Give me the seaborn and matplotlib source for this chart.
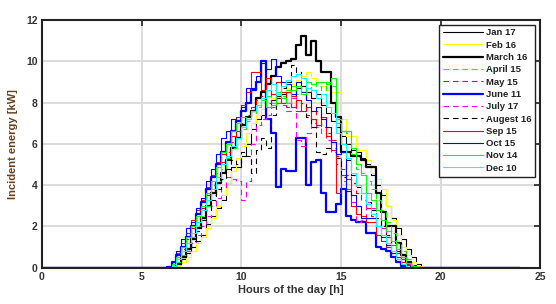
import numpy as np
import matplotlib
matplotlib.use("Agg")
import matplotlib.pyplot as plt
import seaborn as sns

# 15-minute samples, daytime part only (06:00 .. 19:00), zero outside
day_start = 6.0
step = 0.25

jan17 = [0, 0, 0.05, 0.2, 0.4, 0.7, 1.0, 1.3, 1.6, 2.1, 2.5, 2.9,
         3.3, 4.1, 4.9, 4.9, 5.4, 6.0, 6.7, 7.2, 7.4, 7.8, 8.1, 8.3,
         8.4, 8.6, 8.3, 8.7, 8.8, 8.5, 8.2, 8.4, 7.9, 7.5, 7.1, 6.8,
         6.4, 6.0, 5.7, 5.6, 5.3, 5.0, 4.5, 4.0, 3.5, 3.0, 2.4, 1.9,
         1.4, 0.9, 0.5, 0.2, 0]
feb16 = [0, 0, 0, 0.1, 0.3, 0.5, 0.8, 1.2, 1.5, 1.9, 2.4, 3.0,
         3.5, 4.1, 4.7, 5.3, 5.9, 6.5, 7.0, 7.4, 7.7, 8.0, 8.2, 8.0,
         8.5, 8.7, 8.9, 9.1, 9.3, 9.5, 9.2, 9.0, 8.8, 8.6, 8.5, 8.5,
         7.2, 6.4, 6.4, 5.7, 5.7, 5.2, 4.6, 4.3, 3.8, 3.0, 2.3, 1.6,
         1.0, 0.6, 0.3, 0.1, 0]
march16 = [0, 0, 0.05, 0.2, 0.5, 0.9, 1.4, 1.9, 2.4, 3.0, 3.6, 4.1,
           4.6, 5.2, 5.8, 6.3, 6.9, 7.3, 7.6, 8.2, 8.5, 8.9, 9.3, 9.7,
           9.9, 10.0, 10.1, 10.8, 11.2, 10.3, 11.0, 10.0, 9.5, 9.5, 8.0, 7.3,
           5.6, 5.6, 5.4, 5.4, 5.2, 4.9, 4.9, 3.6, 2.7, 2.0, 2.0, 1.2,
           0.6, 0.3, 0.1, 0, 0]
april15 = [0, 0, 0.05, 0.3, 0.6, 1.0, 1.5, 2.0, 2.5, 3.0, 3.5, 4.2,
           4.8, 5.3, 5.8, 6.3, 6.7, 7.1, 7.5, 7.8, 8.0, 8.3, 8.0, 8.5,
           8.3, 8.6, 8.8, 8.4, 8.7, 8.5, 8.9, 8.8, 8.6, 9.0, 8.8, 7.2,
           6.6, 6.5, 5.5, 4.8, 4.6, 4.2, 3.8, 3.3, 2.8, 2.2, 1.7, 1.2,
           0.8, 0.4, 0.15, 0, 0]
may15 = [0, 0.05, 0.2, 0.5, 0.9, 1.4, 1.9, 2.4, 2.9, 3.5, 4.0, 4.6,
         5.1, 5.6, 6.1, 6.6, 7.0, 7.4, 7.8, 8.1, 8.3, 8.0, 8.6, 8.2,
         8.5, 7.8, 8.3, 7.6, 8.0, 7.4, 7.0, 7.6, 6.8, 6.5, 6.2, 5.4,
         4.8, 4.5, 4.1, 3.6, 3.3, 2.9, 2.5, 2.2, 1.9, 1.5, 1.1, 0.7,
         0.4, 0.2, 0.05, 0, 0]
june11 = [0, 0.05, 0.3, 0.6, 1.0, 1.5, 2.0, 2.6, 3.2, 3.8, 4.4, 5.0,
          5.6, 6.1, 6.6, 7.1, 7.6, 8.0, 8.6, 9.0, 10.0, 7.2, 6.5, 3.9,
          4.8, 4.7, 4.7, 6.3, 6.3, 4.0, 5.1, 5.2, 3.6, 2.7, 2.7, 3.1,
          3.8, 2.5, 2.3, 2.2, 2.2, 1.7, 1.7, 1.0, 0.9, 0.8, 0.5, 0.3,
          0.1, 0, 0, 0, 0]
july17 = [0, 0, 0.05, 0.2, 0.5, 0.8, 1.2, 1.6, 2.0, 2.5, 3.0, 3.4,
          3.9, 4.4, 4.3, 4.2, 3.3, 4.2, 6.0, 6.9, 7.2, 7.4, 7.8, 8.0,
          7.9, 7.6, 8.2, 6.2, 5.9, 6.5, 7.2, 6.8, 6.5, 6.2, 5.6, 5.0,
          4.2, 3.8, 3.2, 2.2, 2.3, 3.2, 2.9, 2.4, 1.9, 1.5, 1.1, 0.7,
          0.4, 0.2, 0.05, 0, 0]
aug16 = [0, 0, 0.05, 0.2, 0.5, 0.9, 1.3, 1.8, 2.3, 2.8, 3.3, 3.8,
         4.3, 4.8, 5.2, 5.0, 5.6, 5.4, 4.6, 5.7, 6.3, 5.8, 7.4, 8.2,
         8.7, 9.0, 9.8, 9.5, 8.8, 7.3, 6.8, 5.6, 5.5, 5.8, 5.8, 5.3,
         4.4, 5.2, 4.5, 3.9, 3.6, 3.2, 2.8, 2.4, 2.0, 1.6, 1.2, 0.8,
         0.5, 0.25, 0.1, 0, 0]
sep15 = [0, 0.05, 0.3, 0.7, 1.2, 1.7, 2.3, 2.8, 3.3, 3.9, 4.5, 5.1,
         5.5, 6.0, 6.4, 7.3, 7.9, 8.5, 9.5, 9.5, 8.6, 9.2, 8.4, 9.0,
         8.0, 8.5, 7.8, 8.1, 7.6, 7.8, 7.2, 6.9, 7.3, 6.4, 5.7, 3.6,
         4.5, 4.3, 3.0, 2.6, 2.5, 2.2, 2.2, 1.6, 1.3, 1.0, 0.7, 0.5,
         0.3, 0.15, 0.05, 0, 0]
oct15 = [0, 0.1, 0.3, 0.8, 1.4, 1.9, 2.2, 2.9, 3.4, 4.2, 4.8, 5.5,
         6.3, 6.6, 7.2, 7.0, 7.8, 8.7, 8.7, 9.3, 9.9, 9.6, 10.1, 9.3,
         9.0, 8.9, 8.4, 9.0, 8.5, 8.1, 7.6, 7.8, 7.2, 6.8, 6.1, 5.5,
         5.6, 3.7, 3.5, 3.0, 2.4, 2.4, 2.4, 2.0, 1.5, 1.1, 0.7, 0.4,
         0.2, 0.05, 0, 0, 0]
nov14 = [0, 0.05, 0.2, 0.5, 1.0, 1.5, 2.0, 2.5, 3.0, 3.6, 4.2, 4.9,
         5.6, 6.0, 6.6, 7.0, 7.3, 7.2, 7.6, 7.9, 8.1, 7.8, 7.9, 8.4,
         8.2, 8.0, 8.6, 8.8, 8.4, 9.0, 8.9, 9.0, 9.0, 8.9, 9.2, 7.0,
         6.6, 6.6, 5.8, 5.0, 4.5, 3.6, 3.3, 2.8, 2.3, 1.8, 1.3, 0.9,
         0.5, 0.25, 0.1, 0, 0]
dec10 = [0, 0, 0.1, 0.4, 0.8, 1.2, 1.7, 2.2, 2.8, 3.3, 3.8, 4.4,
         5.0, 5.4, 5.9, 6.3, 6.8, 7.2, 7.6, 7.9, 8.2, 8.6, 8.9, 8.4,
         8.8, 9.1, 9.3, 9.4, 9.2, 8.7, 8.6, 8.2, 8.4, 7.8, 7.5, 6.5,
         6.0, 5.3, 4.6, 4.0, 3.6, 3.1, 2.6, 2.0, 1.6, 1.2, 0.8, 0.4,
         0.2, 0.05, 0, 0, 0]

labels = ['Jan 17', 'Feb 16', 'March 16', 'April 15', 'May 15', 'June 11',
          'July 17', 'Augest 16', 'Sep 15', 'Oct 15', 'Nov 14', 'Dec 10']
series = [jan17, feb16, march16, april15, may15, june11,
          july17, aug16, sep15, oct15, nov14, dec10]

# MATLAB style colours / line styles
colors = ['#000000', '#ffff00', '#000000', '#00ff00', '#ff0000', '#0000ff',
          '#ff00ff', '#000000', '#ff0000', '#0000ff', '#00ff00', '#00ffff']
dashed = (0, (5, 3.5))
styles = ['-', '-', '-', dashed, dashed, '-', dashed, dashed, '-', '-', '-', '-']
widths = [0.8, 0.8, 1.6, 0.8, 0.8, 1.6, 0.8, 0.8, 0.8, 0.8, 0.8, 0.8]

hours = np.arange(0, 24 + step, step)


def full_day(vals):
    out = np.zeros(len(hours))
    i0 = int(round(day_start / step))
    out[i0:i0 + len(vals)] = vals
    return out


sns.set_theme(style="whitegrid")
plt.rcParams['font.family'] = ['Liberation Sans', 'DejaVu Sans']
plt.rcParams['font.weight'] = 'bold'

fig = plt.figure(figsize=(5.56, 3.04), dpi=100)
ax = fig.add_axes([0.0755, 0.1194, 0.896, 0.815])
ax.set_facecolor('white')

for lab, vals, c, ls, lw in zip(labels, series, colors, styles, widths):
    sns.lineplot(x=hours, y=full_day(vals), ax=ax, drawstyle='steps-post',
                 color=c, linestyle=ls, linewidth=lw, label=lab)

ax.set_xlim(0, 25)
ax.set_ylim(0, 12)
ax.set_xticks([0, 5, 10, 15, 20, 25])
ax.set_yticks([0, 2, 4, 6, 8, 10, 12])
ax.grid(True, color='#dcdcdc', linewidth=1.4)
ax.set_axisbelow(True)

for sp in ax.spines.values():
    sp.set_color('#222222')
    sp.set_linewidth(1.5)
    sp.set_visible(True)
ax.tick_params(direction='in', length=4, width=1.2, colors='#222222',
               labelsize=7.5, top=True, right=True, pad=3)
for t in ax.get_xticklabels() + ax.get_yticklabels():
    t.set_fontweight('bold')
    t.set_color('#333333')

ax.set_xlabel('Hours of the day [h]', fontsize=8, fontweight='bold',
              color='#333333', labelpad=2)
ax.set_ylabel('Incident energy [kW]', fontsize=8, fontweight='bold',
              color='#6b3f1d', labelpad=6)

leg = ax.legend(loc='upper right', fontsize=6.8, frameon=True, fancybox=False,
                edgecolor='#222222', framealpha=1, borderpad=0.4,
                handlelength=4.3, handletextpad=0.3, labelspacing=0.35,
                borderaxespad=0.5)
leg.get_frame().set_linewidth(1.0)
for t in leg.get_texts():
    t.set_fontweight('bold')
    t.set_color('#222222')

fig.savefig('out.png', dpi=100)
